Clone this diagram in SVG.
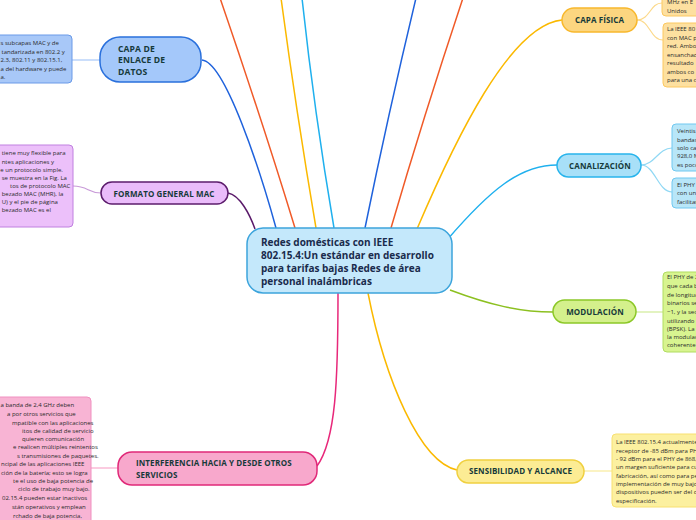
<svg xmlns="http://www.w3.org/2000/svg" width="696" height="520" viewBox="0 0 696 520">
<style>
.lbl{font-family:"Open Sans","Noto Sans",sans-serif;font-weight:bold;font-size:8px;fill:#163a3a;letter-spacing:0.1px}
.ctr{font-family:"Open Sans","Noto Sans",sans-serif;font-weight:bold;font-size:10px;fill:#1a2b4c}
.bt{font-family:"Open Sans","Noto Sans",sans-serif;font-size:6px;fill:#2a2a2a}
.c{fill:none;stroke-width:1.5}
.s{fill:none;stroke-width:1.2}
</style>
<rect width="696" height="520" fill="#ffffff"/>
<g id="connectors">
<path class="c" stroke="#f05a28" d="M295,228 Q262,120 220,-2"/>
<path class="c" stroke="#fbb900" d="M316,228 Q296,110 281,-2"/>
<path class="c" stroke="#1fb0ee" d="M334,228 Q314,110 302,-2"/>
<path class="c" stroke="#1f62dc" d="M365,228 Q388,115 416,-2"/>
<path class="c" stroke="#f05a28" d="M391,228 Q424,115 463,-2"/>
<path class="c" stroke="#1f62dc" d="M202,60 C225,62 260,170 276,228"/>
<path class="c" stroke="#5a1a6a" d="M228,193 C240,195 250,215 255,229"/>
<path class="c" stroke="#e8287a" d="M338,293 C338,380 336,440 317,466"/>
<path class="c" stroke="#fbb900" d="M368,293 C385,380 420,462 457,470"/>
<path class="c" stroke="#8cc020" d="M450,290 C490,305 520,312 553,312"/>
<path class="c" stroke="#1fb0ee" d="M447,240 C490,190 520,165 557,165"/>
<path class="c" stroke="#fbb900" d="M417,229 C455,140 510,25 562,20"/>
<path class="s" stroke="#a8c8f8" d="M72,60 L100,60"/>
<path class="s" stroke="#c89ad8" d="M73,186 C88,186 88,193 101,193"/>
<path class="s" stroke="#f8a8cc" d="M91,468 L118,468"/>
<path class="s" stroke="#fcd98a" d="M637,20 C650,20 650,3 662,3"/>
<path class="s" stroke="#fcd98a" d="M637,20 C650,20 650,40 663,40"/>
<path class="s" stroke="#90d8f4" d="M641,165 C655,165 658,148 672,148"/>
<path class="s" stroke="#90d8f4" d="M641,165 C655,165 658,192 672,192"/>
<path class="s" stroke="#d0ec98" d="M636,312 L663,312"/>
<path class="s" stroke="#f8ec9c" d="M584,471 L612,471"/>
</g>
<g id="central">
<rect x="247" y="228" width="205" height="65" rx="16" fill="#c4e8fb" stroke="#3ca4dc" stroke-width="1.5"/>
<text class="ctr" x="261" y="245.5">Redes domésticas con IEEE</text>
<text class="ctr" x="261" y="258.7">802.15.4:Un estándar en desarrollo</text>
<text class="ctr" x="261" y="272">para tarifas bajas Redes de área</text>
<text class="ctr" x="261" y="285.3">personal inalámbricas</text>
</g>
<g id="capa-enlace">
<rect x="-10" y="35" width="82" height="48" rx="4" fill="#a8c8f8" stroke="#6a9ae8"/>
<text class="bt" x="0.5" y="45">s subcapas MAC y de</text>
<text class="bt" x="1.5" y="53.5">tandarizada en 802.2 y</text>
<text class="bt" x="0.5" y="62">2.3, 802.11 y 802.15.1,</text>
<text class="bt" x="0.5" y="70.5">a del hardware y puede</text>
<text class="bt" x="0.5" y="79">a.</text>
<rect x="100" y="37" width="101" height="45" rx="20" fill="#a4c8fa" stroke="#2a70dc" stroke-width="1.5"/>
<text class="lbl" x="118" y="51.7" style="font-size:8.6px">CAPA DE</text>
<text class="lbl" x="118" y="63.3" style="font-size:8.6px">ENLACE DE</text>
<text class="lbl" x="118" y="74.5" style="font-size:8.6px">DATOS</text>
</g>
<g id="formato-mac">
<rect x="-10" y="145" width="83" height="82" rx="4" fill="#ecc0fa" stroke="#c080e0"/>
<text class="bt" x="1.7" y="155">tiene muy flexible para</text>
<text class="bt" x="1.7" y="163.5">ntes aplicaciones y</text>
<text class="bt" x="0.3" y="171.5">e un protocolo simple.</text>
<text class="bt" x="1.7" y="179.5">se muestra en la Fig. La</text>
<text class="bt" x="10" y="187.5">tos de protocolo MAC</text>
<text class="bt" x="1.7" y="195.5">bezado MAC (MHR), la</text>
<text class="bt" x="1.7" y="204">U) y el pie de página</text>
<text class="bt" x="1.7" y="212">bezado MAC es el</text>
<rect x="101" y="182" width="127" height="22" rx="11" fill="#eabcfa" stroke="#5c1c6c" stroke-width="1.5"/>
<text class="lbl" x="164" y="196.5" text-anchor="middle">FORMATO GENERAL MAC</text>
</g>
<g id="interferencia">
<rect x="-10" y="397" width="101" height="133" rx="4" fill="#f8b4d4" stroke="#f090c0"/>
<text class="bt" x="0.5" y="407">a banda de 2,4 GHz deben</text>
<text class="bt" x="7" y="416">a por otros servicios que</text>
<text class="bt" x="12" y="425">mpatible con las aplicaciones</text>
<text class="bt" x="22" y="433">itos de calidad de servicio</text>
<text class="bt" x="22" y="441">quieren comunicación</text>
<text class="bt" x="13" y="449">e realicen múltiples reintentos</text>
<text class="bt" x="17" y="458">s transmisiones de paquetes.</text>
<text class="bt" x="1" y="466">ncipal de las aplicaciones IEEE</text>
<text class="bt" x="1" y="475">ción de la batería; esto se logra</text>
<text class="bt" x="13" y="483">te el uso de baja potencia de</text>
<text class="bt" x="18" y="491">ciclo de trabajo muy bajo.</text>
<text class="bt" x="2" y="500">02.15.4 pueden estar inactivos</text>
<text class="bt" x="12" y="509">stán operativos y emplean</text>
<text class="bt" x="13" y="518">rchado de baja potencia,</text>
<rect x="118" y="452" width="199" height="33" rx="14" fill="#f8a8cc" stroke="#e02878" stroke-width="1.5"/>
<text class="lbl" x="136" y="466">INTERFERENCIA HACIA Y DESDE OTROS</text>
<text class="lbl" x="136" y="477.5">SERVICIOS</text>
</g>
<g id="capa-fisica">
<rect x="662" y="-12" width="50" height="28" rx="4" fill="#fde0a0" stroke="#fcc860"/>
<text class="bt" x="667" y="4">MHz en E</text>
<text class="bt" x="667" y="12.5">Unidos</text>
<rect x="663" y="23" width="50" height="64" rx="4" fill="#fde0a0" stroke="#fcc860"/>
<text class="bt" x="667" y="31">La IEEE 80</text>
<text class="bt" x="667" y="39.5">con MAC p</text>
<text class="bt" x="667" y="48">red. Ambo</text>
<text class="bt" x="667" y="56.5">ensanchad</text>
<text class="bt" x="667" y="65">resultado</text>
<text class="bt" x="667" y="73.5">ambos co</text>
<text class="bt" x="667" y="82">para una c</text>
<rect x="562" y="8" width="75" height="24" rx="12" fill="#fcd680" stroke="#f8b82c" stroke-width="1.5"/>
<text class="lbl" x="599.5" y="23.3" text-anchor="middle">CAPA FÍSICA</text>
</g>
<g id="canalizacion">
<rect x="672" y="124" width="40" height="47" rx="4" fill="#b8e6f8" stroke="#70c8f0"/>
<text class="bt" x="677" y="133">Veintis</text>
<text class="bt" x="677" y="141.5">bandas</text>
<text class="bt" x="677" y="149.5">solo ca</text>
<text class="bt" x="677" y="158">928,0 M</text>
<text class="bt" x="677" y="166.5">es poco</text>
<rect x="672" y="178" width="40" height="30" rx="4" fill="#b8e6f8" stroke="#70c8f0"/>
<text class="bt" x="677" y="186.5">El PHY</text>
<text class="bt" x="677" y="195">con un</text>
<text class="bt" x="677" y="204">facilitar</text>
<rect x="557" y="154" width="84" height="23" rx="11.5" fill="#a8e0f8" stroke="#28b4ec" stroke-width="1.5"/>
<text class="lbl" x="600" y="168.8" text-anchor="middle">CANALIZACIÓN</text>
</g>
<g id="modulacion">
<rect x="663" y="272" width="50" height="80" rx="4" fill="#d8f490" stroke="#b0dc60"/>
<text class="bt" x="667" y="279">El PHY de 2</text>
<text class="bt" x="667" y="288">que cada b</text>
<text class="bt" x="667" y="296.5">de longitud</text>
<text class="bt" x="667" y="305">binarios se</text>
<text class="bt" x="667" y="314">−1, y la sec</text>
<text class="bt" x="667" y="322.5">utilizando m</text>
<text class="bt" x="667" y="331">(BPSK). La</text>
<text class="bt" x="667" y="339">la modulac</text>
<text class="bt" x="667" y="347">coherente</text>
<rect x="553" y="300" width="83" height="23" rx="11.5" fill="#d4f08c" stroke="#8cc828" stroke-width="1.5"/>
<text class="lbl" x="595" y="314.8" text-anchor="middle">MODULACIÓN</text>
</g>
<g id="sensibilidad">
<rect x="612" y="434" width="100" height="73" rx="4" fill="#fcf0a0" stroke="#f8e070"/>
<text class="bt" x="616" y="444">La IEEE 802.15.4 actualmente</text>
<text class="bt" x="616" y="452.5">receptor de -85 dBm para PH</text>
<text class="bt" x="616" y="460.5">- 92 dBm para el PHY de 868,</text>
<text class="bt" x="616" y="469">un margen suficiente para cu</text>
<text class="bt" x="616" y="477.5">fabricación, así como para pe</text>
<text class="bt" x="616" y="485.5">implementación de muy bajo</text>
<text class="bt" x="616" y="494">dispositivos pueden ser del o</text>
<text class="bt" x="616" y="503">especificación.</text>
<rect x="457" y="460" width="127" height="23" rx="11.5" fill="#fcec94" stroke="#f0d040" stroke-width="1.5"/>
<text class="lbl" x="520.5" y="474.3" text-anchor="middle">SENSIBILIDAD Y ALCANCE</text>
</g>
</svg>
